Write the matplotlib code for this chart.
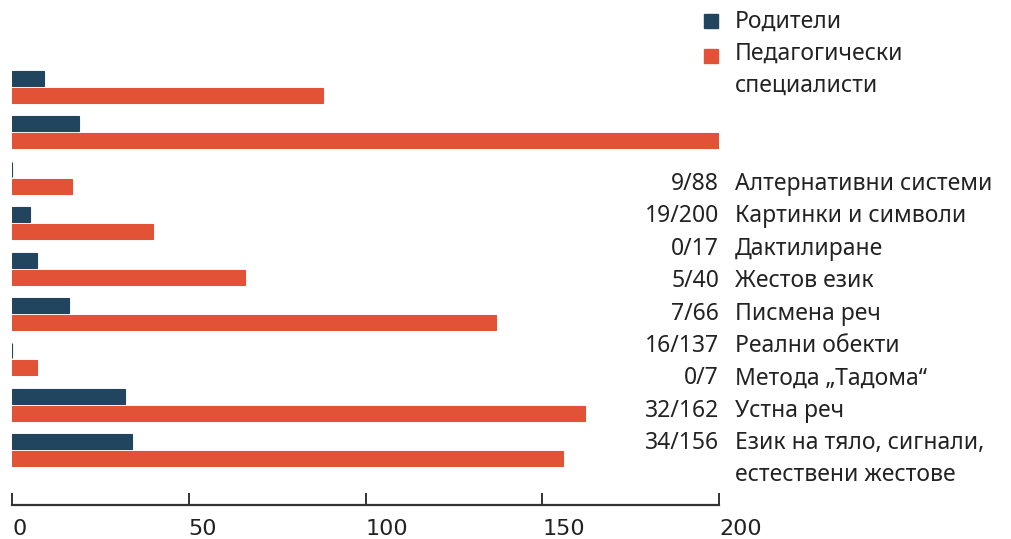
import numpy as np
import matplotlib
matplotlib.use('Agg')
import matplotlib.pyplot as plt
from matplotlib.patches import Rectangle

# данни (отгоре надолу)
categories = ['Алтернативни системи', 'Картинки и символи', 'Дактилиране',
              'Жестов език', 'Писмена реч', 'Реални обекти', 'Метода „Тадома“',
              'Устна реч', 'Език на тяло, сигнали,\nестествени жестове']
parents = [9, 19, 0, 5, 7, 16, 0, 32, 34]
specialists = [88, 200, 17, 40, 66, 137, 7, 162, 156]
series_names = ['Родители', 'Педагогически\nспециалисти']
xticks = [0, 50, 100, 150, 200]

c_blue = '#21445f'
c_orange = '#e15236'
c_text = '#222222'

W, H = 1011, 539
fig = plt.figure(figsize=(W / 100, H / 100), dpi=100)

def fx(px):
    return px / W

def fy(py):
    return 1 - py / H

ax = fig.add_axes([fx(12), fy(505), fx(719) - fx(12), fy(60) - fy(505)])

y = np.arange(len(categories))
h = 0.33
off = 0.187
ax.barh(y - off, parents, height=h, color=c_blue, edgecolor=c_blue, linewidth=0.8)
ax.barh(y + off, specialists, height=h, color=c_orange, edgecolor=c_orange, linewidth=0.8)

ax.set_xlim(0, 200)
ax.set_ylim(9.207, -0.595)
for s in ['top', 'right', 'left']:
    ax.spines[s].set_visible(False)
ax.spines['bottom'].set_linewidth(1.6)
ax.spines['bottom'].set_color('#333333')
ax.set_yticks([])
ax.set_xticks(xticks)
ax.set_xticklabels([str(t) for t in xticks])
ax.tick_params(axis='x', direction='in', length=9, width=1.4, color='#333333',
               pad=10, labelsize=16, labelcolor=c_text)
for lab in ax.get_xticklabels():
    lab.set_horizontalalignment('left')

# легенда
font_lbl = ['Noto Sans', 'DejaVu Sans']
fs = 16.5
for py, col in [(21, c_blue), (56, c_orange)]:
    fig.patches.append(Rectangle((fx(704), fy(py + 7)), fx(14), fy(py - 7) - fy(py + 7),
                                 transform=fig.transFigure, color=col))
fig.text(fx(735), fy(22), series_names[0], ha='left', va='center', fontsize=fs,
         color=c_text, family=font_lbl)
fig.text(fx(735), fy(42), series_names[1], ha='left', va='top', fontsize=fs,
         color=c_text, family=font_lbl, linespacing=1.45)

# етикети вдясно
row0, step = 184, 32.4
for i, (cat, p, s) in enumerate(zip(categories, parents, specialists)):
    py = row0 + step * i
    fig.text(fx(719), fy(py), f'{p}/{s}', ha='right', va='center', fontsize=fs,
             color=c_text, family=font_lbl)
    fig.text(fx(735), fy(py - 12), cat, ha='left', va='top', fontsize=fs,
             color=c_text, family=font_lbl, linespacing=1.45)

fig.savefig('out.png', dpi=100)
